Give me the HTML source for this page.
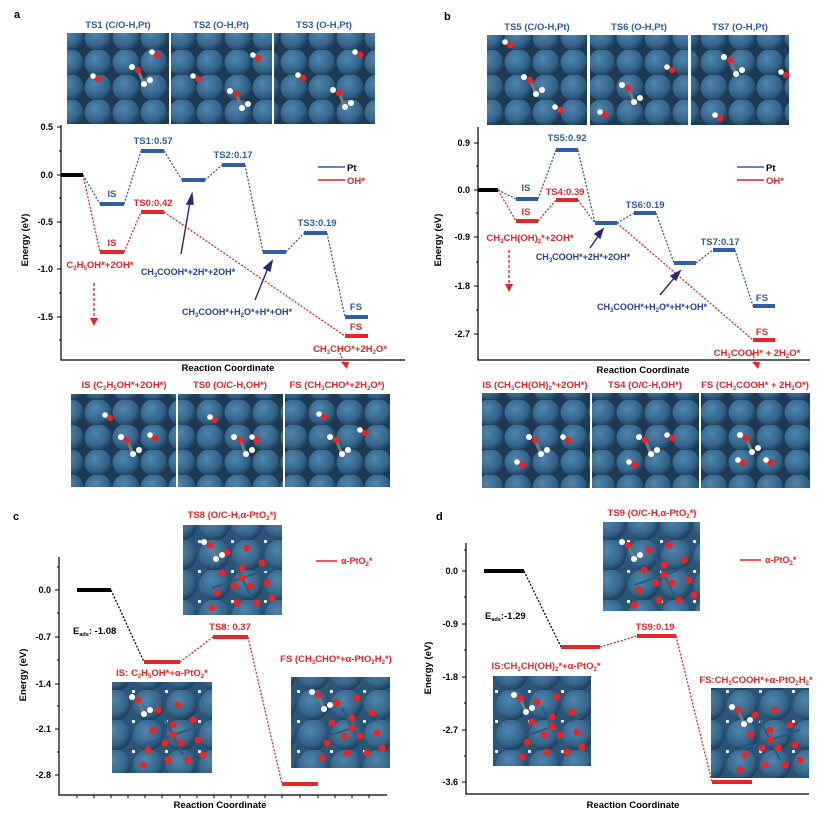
<!DOCTYPE html>
<html><head><meta charset="utf-8"><style>
html,body{margin:0;padding:0;background:#fff}
svg{display:block}
text{font-family:"Liberation Sans",Arial,sans-serif;font-weight:bold}
</style></head><body>
<svg width="832" height="817" viewBox="0 0 832 817" xmlns="http://www.w3.org/2000/svg">
<defs>
<radialGradient id="sg" cx="0.4" cy="0.35" r="0.65">
<stop offset="0" stop-color="#4f86ad"/><stop offset="0.7" stop-color="#346489"/><stop offset="1" stop-color="#1f405c"/>
</radialGradient>
<pattern id="pt" width="28" height="25" patternUnits="userSpaceOnUse">
<rect width="28" height="25" fill="#1d3a52"/>
<circle cx="14" cy="12.5" r="13.5" fill="url(#sg)"/>
</pattern>
<pattern id="po" width="33" height="30" patternUnits="userSpaceOnUse">
<rect width="33" height="30" fill="#2a5577"/>
<circle cx="16.5" cy="15" r="15.5" fill="url(#sg)"/>
<circle cx="1.5" cy="1.5" r="1.6" fill="#fff"/>
</pattern>
<g id="mol1">
<line x1="0" y1="0" x2="6" y2="14" stroke="#777" stroke-width="3"/>
<circle cx="0" cy="0" r="3.2" fill="#e22"/><circle cx="-6" cy="-3" r="3" fill="#fff"/>
<circle cx="6" cy="14" r="3" fill="#fff"/><circle cx="12" cy="10" r="3" fill="#fff"/>
</g>
<g id="oh"><circle cx="0" cy="0" r="3.2" fill="#e22"/><circle cx="-5" cy="-3" r="2.8" fill="#fff"/></g>
<g id="pto">
<g stroke="#2b5a80" stroke-width="2"><line x1="-30" y1="10" x2="30" y2="-10"/><line x1="-10" y1="-20" x2="10" y2="20"/></g>
<g fill="#e22">
<circle cx="0" cy="0" r="3.5"/><circle cx="-8" cy="8" r="3.5"/><circle cx="8" cy="8" r="3.5"/><circle cx="0" cy="-10" r="3.5"/>
<circle cx="-20" cy="-5" r="3.5"/><circle cx="20" cy="-15" r="3.5"/><circle cx="25" cy="5" r="3.5"/><circle cx="-25" cy="15" r="3.5"/>
<circle cx="-5" cy="25" r="3.5"/><circle cx="15" cy="25" r="3.5"/><circle cx="-15" cy="-25" r="3.5"/><circle cx="5" cy="-30" r="3.5"/>
<circle cx="30" cy="20" r="3.5"/><circle cx="-30" cy="30" r="3.5"/>
</g></g>
</defs>

<!-- ============ PANEL A ============ -->
<text x="14" y="18" font-size="11" fill="#000">a</text>
<g font-size="9.5" fill="#2d5ea6" text-anchor="middle">
<text x="118" y="28">TS1 (C/O-H,Pt)</text><text x="221" y="28">TS2 (O-H,Pt)</text><text x="324" y="28">TS3 (O-H,Pt)</text>
</g>
<rect x="67" y="33" width="102" height="91" fill="url(#pt)"/>
<rect x="171" y="33" width="101" height="91" fill="url(#pt)"/>
<rect x="274" y="33" width="101" height="91" fill="url(#pt)"/>
<use href="#oh" x="98" y="79"/><use href="#mol1" x="138" y="70"/><use href="#oh" x="157" y="55"/>
<use href="#oh" x="198" y="79"/><use href="#mol1" x="236" y="94"/><use href="#oh" x="258" y="58"/>
<use href="#oh" x="303" y="78"/><use href="#mol1" x="339" y="93"/><use href="#oh" x="360" y="55"/>

<g stroke="#000" stroke-width="1.2" fill="none">
<path d="M61,125 V360 H405"/>
</g>
<g stroke="#000" stroke-width="1">
<path d="M57,127H61M57,175H61M57,222H61M57,269H61M57,317H61M59,151H61M59,198H61M59,246H61M59,293H61M59,340H61"/>
</g>
<g font-size="9" text-anchor="end" fill="#000">
<text x="53" y="130">0.5</text><text x="53" y="178">0.0</text><text x="53" y="225">-0.5</text><text x="53" y="272">-1.0</text><text x="53" y="320">-1.5</text>
</g>
<text transform="translate(28,240) rotate(-90)" font-size="9.5" text-anchor="middle">Energy (eV)</text>
<text x="228" y="371" font-size="9.5" text-anchor="middle">Reaction Coordinate</text>

<g stroke-dasharray="2,1.6" stroke-width="1.3" fill="none">
<path stroke="#2d5ea6" d="M83,175L100,204M124,204L141,151M164,151L182,180M205,180L222,165M245,165L263,252M286,252L304,233M327,233L345,317"/>
<path stroke="#e8262a" d="M83,175L100,252M124,252L141,212M164,212L345,336"/>
<path stroke="#e8262a" d="M340,353L345,366"/>
</g>
<g stroke-width="4">
<line x1="61" y1="175" x2="83" y2="175" stroke="#000"/>
<g stroke="#2d5ea6"><line x1="100" y1="204" x2="124" y2="204"/><line x1="141" y1="151" x2="164" y2="151"/><line x1="182" y1="180" x2="205" y2="180"/><line x1="222" y1="165" x2="245" y2="165"/><line x1="263" y1="252" x2="286" y2="252"/><line x1="304" y1="233" x2="327" y2="233"/><line x1="345" y1="317" x2="368" y2="317"/></g>
<g stroke="#e8262a"><line x1="100" y1="252" x2="124" y2="252"/><line x1="141" y1="212" x2="164" y2="212"/><line x1="345" y1="336" x2="368" y2="336"/></g>
</g>
<line x1="318" y1="167" x2="345" y2="167" stroke="#2d5ea6" stroke-width="1.5"/>
<line x1="318" y1="180" x2="345" y2="180" stroke="#e8262a" stroke-width="1.5"/>
<text x="347" y="171" font-size="9.5">Pt</text><text x="347" y="184" font-size="9.5" fill="#e8262a">OH*</text>
<g font-size="9.5" text-anchor="middle" fill="#2d5ea6">
<text x="153" y="144">TS1:0.57</text><text x="112" y="197">IS</text><text x="233" y="158">TS2:0.17</text><text x="317" y="226">TS3:0.19</text><text x="356" y="310">FS</text>
</g>
<g font-size="9.5" text-anchor="middle" fill="#e8262a">
<text x="153" y="206">TS0:0.42</text><text x="112" y="246">IS</text><text x="356" y="330">FS</text>
<text x="100" y="268">C<tspan font-size="6" dy="2">2</tspan><tspan dy="-2">H</tspan><tspan font-size="6" dy="2">5</tspan><tspan dy="-2">OH*+2OH*</tspan></text>
<text x="350" y="352">CH<tspan font-size="6" dy="2">3</tspan><tspan dy="-2">CHO*+2H</tspan><tspan font-size="6" dy="2">2</tspan><tspan dy="-2">O*</tspan></text>
</g>
<g font-size="9" text-anchor="middle" fill="#2a3f95">
<text x="188" y="275">CH<tspan font-size="6" dy="2">3</tspan><tspan dy="-2">COOH*+2H*+2OH*</tspan></text>
<text x="237" y="315">CH<tspan font-size="6" dy="2">3</tspan><tspan dy="-2">COOH*+H</tspan><tspan font-size="6" dy="2">2</tspan><tspan dy="-2">O*+H*+OH*</tspan></text>
</g>
<g stroke="#262a78" stroke-width="1.4" fill="#262a78">
<line x1="181" y1="254" x2="190" y2="202"/><path d="M192,194L187,204L193,204Z"/>
<line x1="255" y1="300" x2="268" y2="268"/><path d="M272,261L264,268L270,271Z"/>
</g>
<line x1="94" y1="283" x2="94" y2="320" stroke="#e8262a" stroke-width="1.4" stroke-dasharray="3,2"/>
<path d="M90,318L98,318L94,326Z" fill="#e8262a"/>
<path d="M341,362L349,362L347,369Z" fill="#e8262a"/>

<g font-size="9.5" fill="#e8262a" text-anchor="middle">
<text x="124" y="388">IS (C<tspan font-size="6" dy="2">2</tspan><tspan dy="-2">H</tspan><tspan font-size="6" dy="2">5</tspan><tspan dy="-2">OH*+2OH*)</tspan></text>
<text x="230" y="388">TS0 (O/C-H,OH*)</text>
<text x="337" y="388">FS (CH<tspan font-size="6" dy="2">3</tspan><tspan dy="-2">CHO*+2H</tspan><tspan font-size="6" dy="2">2</tspan><tspan dy="-2">O*)</tspan></text>
</g>
<rect x="71" y="394" width="105" height="93" fill="url(#pt)"/>
<rect x="178" y="394" width="105" height="93" fill="url(#pt)"/>
<rect x="285" y="394" width="105" height="93" fill="url(#pt)"/>
<use href="#oh" x="110" y="418"/><use href="#mol1" x="127" y="440"/><use href="#oh" x="155" y="438"/>
<use href="#oh" x="215" y="420"/><use href="#mol1" x="240" y="440"/><use href="#oh" x="257" y="440"/>
<use href="#oh" x="324" y="417"/><use href="#mol1" x="336" y="440"/><use href="#oh" x="365" y="433"/>

<!-- ============ PANEL B ============ -->
<text x="444" y="20" font-size="11">b</text>
<g font-size="9.5" fill="#2d5ea6" text-anchor="middle">
<text x="537" y="30">TS5 (C/O-H,Pt)</text><text x="639" y="30">TS6 (O-H,Pt)</text><text x="740" y="30">TS7 (O-H,Pt)</text>
</g>
<rect x="487" y="35" width="100" height="90" fill="url(#pt)"/>
<rect x="590" y="35" width="98" height="90" fill="url(#pt)"/>
<rect x="691" y="35" width="98" height="90" fill="url(#pt)"/>
<use href="#mol1" x="530" y="80"/><use href="#oh" x="510" y="45"/><use href="#oh" x="560" y="110"/>
<use href="#mol1" x="628" y="88"/><use href="#oh" x="605" y="115"/><use href="#oh" x="672" y="70"/>
<use href="#mol1" x="730" y="60"/><use href="#oh" x="720" y="118"/><use href="#oh" x="786" y="75"/>

<g stroke="#000" stroke-width="1.2" fill="none"><path d="M478,127 V360 H810"/></g>
<g stroke="#000" stroke-width="1">
<path d="M474,143H478M474,190H478M474,237H478M474,286H478M474,334H478M476,166H478M476,213H478M476,262H478M476,310H478"/>
</g>
<g font-size="9" text-anchor="end">
<text x="470" y="146">0.9</text><text x="470" y="193">0.0</text><text x="470" y="240">-0.9</text><text x="470" y="289">-1.8</text><text x="470" y="337">-2.7</text>
</g>
<text transform="translate(441,240) rotate(-90)" font-size="9.5" text-anchor="middle">Energy (eV)</text>
<text x="643" y="373" font-size="9.5" text-anchor="middle">Reaction Coordinate</text>
<g stroke-dasharray="2,1.6" stroke-width="1.3" fill="none">
<path stroke="#2d5ea6" d="M498,190L516,199M538,199L556,150M578,150L595,223M617,223L634,213M656,213L674,263M696,263L713,250M735,250L753,306"/>
<path stroke="#e8262a" d="M498,190L516,221M538,221L556,200M578,200L595,223M617,223L753,340M752,353L757,366"/>
</g>
<g stroke-width="4">
<line x1="478" y1="190" x2="498" y2="190" stroke="#000"/>
<g stroke="#e8262a"><line x1="516" y1="221" x2="538" y2="221"/><line x1="556" y1="200" x2="578" y2="200"/><line x1="753" y1="340" x2="775" y2="340"/></g>
<g stroke="#2d5ea6"><line x1="516" y1="199" x2="538" y2="199"/><line x1="556" y1="150" x2="578" y2="150"/><line x1="595" y1="223" x2="617" y2="223"/><line x1="634" y1="213" x2="656" y2="213"/><line x1="674" y1="263" x2="696" y2="263"/><line x1="713" y1="250" x2="735" y2="250"/><line x1="753" y1="306" x2="775" y2="306"/></g>
</g>
<line x1="737" y1="167" x2="764" y2="167" stroke="#2d5ea6" stroke-width="1.5"/>
<line x1="737" y1="180" x2="764" y2="180" stroke="#e8262a" stroke-width="1.5"/>
<text x="766" y="171" font-size="9.5">Pt</text><text x="766" y="184" font-size="9.5" fill="#e8262a">OH*</text>
<g font-size="9.5" text-anchor="middle" fill="#2d5ea6">
<text x="567" y="141">TS5:0.92</text><text x="526" y="191">IS</text><text x="645" y="208">TS6:0.19</text><text x="720" y="245">TS7:0.17</text><text x="762" y="301">FS</text>
</g>
<g font-size="9.5" text-anchor="middle" fill="#e8262a">
<text x="565" y="195">TS4:0.39</text><text x="526" y="215">IS</text><text x="762" y="335">FS</text>
<text x="530" y="241">CH<tspan font-size="6" dy="2">3</tspan><tspan dy="-2">CH(OH)</tspan><tspan font-size="6" dy="2">2</tspan><tspan dy="-2">*+2OH*</tspan></text>
<text x="757" y="356">CH<tspan font-size="6" dy="2">3</tspan><tspan dy="-2">COOH* + 2H</tspan><tspan font-size="6" dy="2">2</tspan><tspan dy="-2">O*</tspan></text>
</g>
<g font-size="9" text-anchor="middle" fill="#2a3f95">
<text x="583" y="260">CH<tspan font-size="6" dy="2">3</tspan><tspan dy="-2">COOH*+2H*+2OH*</tspan></text>
<text x="652" y="310">CH<tspan font-size="6" dy="2">3</tspan><tspan dy="-2">COOH*+H</tspan><tspan font-size="6" dy="2">2</tspan><tspan dy="-2">O*+H*+OH*</tspan></text>
</g>
<g stroke="#262a78" stroke-width="1.4" fill="#262a78">
<line x1="590" y1="248" x2="599" y2="235"/><path d="M603,229L595,234L600,238Z"/>
<line x1="660" y1="295" x2="675" y2="277"/><path d="M680,271L671,276L676,280Z"/>
</g>
<line x1="509" y1="250" x2="509" y2="285" stroke="#e8262a" stroke-width="1.4" stroke-dasharray="3,2"/>
<path d="M505,284L513,284L509,292Z" fill="#e8262a"/>
<path d="M752,362L760,362L758,369Z" fill="#e8262a"/>

<g font-size="9.5" fill="#e8262a" text-anchor="middle">
<text x="535" y="388">IS (CH<tspan font-size="6" dy="2">3</tspan><tspan dy="-2">CH(OH)</tspan><tspan font-size="6" dy="2">2</tspan><tspan dy="-2">*+2OH*)</tspan></text>
<text x="645" y="388">TS4 (O/C-H,OH*)</text>
<text x="755" y="388">FS (CH<tspan font-size="6" dy="2">3</tspan><tspan dy="-2">COOH* + 2H</tspan><tspan font-size="6" dy="2">2</tspan><tspan dy="-2">O*)</tspan></text>
</g>
<rect x="482" y="393" width="108" height="95" fill="url(#pt)"/>
<rect x="592" y="393" width="107" height="95" fill="url(#pt)"/>
<rect x="701" y="393" width="109" height="95" fill="url(#pt)"/>
<use href="#mol1" x="535" y="440"/><use href="#oh" x="568" y="440"/><use href="#oh" x="522" y="465"/>
<use href="#mol1" x="645" y="440"/><use href="#oh" x="672" y="438"/><use href="#oh" x="634" y="465"/>
<use href="#mol1" x="746" y="438"/><use href="#oh" x="743" y="463"/><use href="#oh" x="771" y="463"/>

<!-- ============ PANEL C ============ -->
<text x="13" y="520" font-size="11">c</text>
<g stroke="#000" stroke-width="1.2" fill="none"><path d="M59,557 V795 H387"/></g>
<g stroke="#000" stroke-width="1">
<path d="M55,590H59M55,637H59M55,684H59M55,729H59M55,775H59M57,567H59M57,613H59M57,660H59M57,706H59M57,752H59"/>
<path d="M77,795v3M94,795v3M111,795v3M128,795v3M145,795v3M162,795v3M180,795v3M197,795v3M214,795v3M231,795v3M248,795v3M265,795v3M282,795v3M300,795v3M318,795v3M335,795v3M352,795v3M369,795v3"/>
</g>
<g font-size="9" text-anchor="end">
<text x="51" y="593">0.0</text><text x="51" y="640">-0.7</text><text x="51" y="687">-1.4</text><text x="51" y="732">-2.1</text><text x="51" y="778">-2.8</text>
</g>
<text transform="translate(26,675) rotate(-90)" font-size="9.5" text-anchor="middle">Energy (eV)</text>
<text x="220" y="808" font-size="9.5" text-anchor="middle">Reaction Coordinate</text>
<rect x="183" y="525" width="99" height="90" fill="url(#po)"/>
<rect x="112" y="682" width="100" height="91" fill="url(#po)"/>
<rect x="291" y="677" width="99" height="91" fill="url(#po)"/>
<use href="#pto" x="242" y="578"/><use href="#pto" x="173" y="735"/><use href="#pto" x="352" y="728"/>
<use href="#mol1" x="210" y="545"/><use href="#mol1" x="138" y="700"/><use href="#mol1" x="318" y="695"/>
<g stroke-dasharray="2,1.6" stroke-width="1.3" fill="none">
<path stroke="#000" d="M111,590L144,662"/>
<path stroke="#e8262a" d="M180,662L213,637M248,637L282,784"/>
</g>
<g stroke-width="4">
<line x1="77" y1="590" x2="111" y2="590" stroke="#000"/>
<g stroke="#e8262a"><line x1="144" y1="662" x2="180" y2="662"/><line x1="213" y1="637" x2="248" y2="637"/><line x1="282" y1="784" x2="318" y2="784"/></g>
</g>
<line x1="316" y1="561" x2="337" y2="561" stroke="#e8262a" stroke-width="1.5"/>
<g font-size="9" fill="#e8262a">
<text x="341" y="564">α-PtO<tspan font-size="6" dy="2">2</tspan><tspan dy="-2">*</tspan></text>
</g>
<g font-size="9.5" fill="#e8262a" text-anchor="middle">
<text x="232" y="518">TS8 (O/C-H,α-PtO<tspan font-size="6" dy="2">2</tspan><tspan dy="-2">*)</tspan></text>
<text x="230" y="630">TS8: 0.37</text>
<text x="162" y="676">IS: C<tspan font-size="6" dy="2">2</tspan><tspan dy="-2">H</tspan><tspan font-size="6" dy="2">5</tspan><tspan dy="-2">OH*+α-PtO</tspan><tspan font-size="6" dy="2">2</tspan><tspan dy="-2">*</tspan></text>
<text x="336" y="662">FS (CH<tspan font-size="6" dy="2">3</tspan><tspan dy="-2">CHO*+α-PtO</tspan><tspan font-size="6" dy="2">2</tspan><tspan dy="-2">H</tspan><tspan font-size="6" dy="2">2</tspan><tspan dy="-2">*)</tspan></text>
</g>
<text x="73" y="634" font-size="9.5">E<tspan font-size="5.5" dy="2">ads</tspan><tspan dy="-2">: -1.08</tspan></text>

<!-- ============ PANEL D ============ -->
<text x="436" y="520" font-size="11">d</text>
<g stroke="#000" stroke-width="1.2" fill="none"><path d="M466,543 V794 H809"/></g>
<g stroke="#000" stroke-width="1">
<path d="M462,571H466M462,624H466M462,677H466M462,730H466M462,782H466M464,597H466M464,650H466M464,703H466M464,756H466M464,550H466"/>
</g>
<g font-size="9" text-anchor="end">
<text x="458" y="574">0.0</text><text x="458" y="627">-0.9</text><text x="458" y="680">-1.8</text><text x="458" y="733">-2.7</text><text x="458" y="785">-3.6</text>
</g>
<text transform="translate(431,668) rotate(-90)" font-size="9.5" text-anchor="middle">Energy (eV)</text>
<text x="633" y="808" font-size="9.5" text-anchor="middle">Reaction Coordinate</text>
<rect x="603" y="522" width="97" height="89" fill="url(#po)"/>
<rect x="493" y="676" width="98" height="90" fill="url(#po)"/>
<rect x="711" y="688" width="98" height="90" fill="url(#po)"/>
<use href="#pto" x="664" y="575"/><use href="#pto" x="552" y="727"/><use href="#pto" x="770" y="740"/>
<use href="#mol1" x="628" y="545"/><use href="#mol1" x="520" y="698"/><use href="#mol1" x="738" y="710"/>
<g stroke-dasharray="2,1.6" stroke-width="1.3" fill="none">
<path stroke="#000" d="M524,571L561,647"/>
<path stroke="#e8262a" d="M600,647L637,636M676,636L712,782"/>
</g>
<g stroke-width="4">
<line x1="484" y1="571" x2="524" y2="571" stroke="#000"/>
<g stroke="#e8262a"><line x1="561" y1="647" x2="600" y2="647"/><line x1="637" y1="636" x2="676" y2="636"/><line x1="712" y1="782" x2="752" y2="782"/></g>
</g>
<line x1="740" y1="560" x2="761" y2="560" stroke="#e8262a" stroke-width="1.5"/>
<text x="765" y="563" font-size="9" fill="#e8262a">α-PtO<tspan font-size="6" dy="2">2</tspan><tspan dy="-2">*</tspan></text>
<g font-size="9.5" fill="#e8262a" text-anchor="middle">
<text x="652" y="516">TS9 (O/C-H,α-PtO<tspan font-size="6" dy="2">2</tspan><tspan dy="-2">*)</tspan></text>
<text x="655" y="630">TS9:0.19</text>
<text x="546" y="669">IS:CH<tspan font-size="6" dy="2">3</tspan><tspan dy="-2">CH(OH)</tspan><tspan font-size="6" dy="2">2</tspan><tspan dy="-2">*+α-PtO</tspan><tspan font-size="6" dy="2">2</tspan><tspan dy="-2">*</tspan></text>
<text x="756" y="683">FS:CH<tspan font-size="6" dy="2">3</tspan><tspan dy="-2">COOH*+α-PtO</tspan><tspan font-size="6" dy="2">2</tspan><tspan dy="-2">H</tspan><tspan font-size="6" dy="2">2</tspan><tspan dy="-2">*</tspan></text>
</g>
<text x="485" y="619" font-size="9.5">E<tspan font-size="5.5" dy="2">ads</tspan><tspan dy="-2">:-1.29</tspan></text>
</svg>
</body></html>
